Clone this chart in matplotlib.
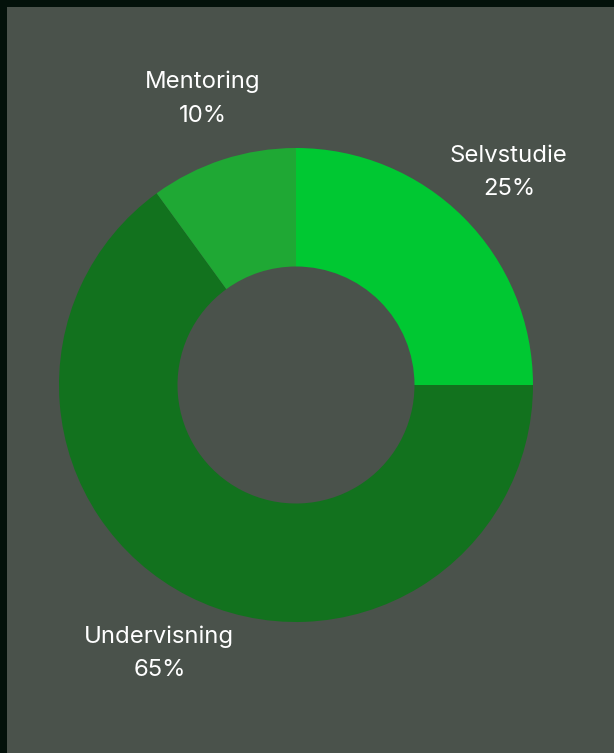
import numpy as np
import matplotlib
matplotlib.use("Agg")
import matplotlib.pyplot as plt

labels = ["Selvstudie", "Undervisning", "Mentoring"]
shares = [25, 65, 10]
colors = ["#00c832", "#12721e", "#1fa834"]

W, H = 614, 753
fig = plt.figure(figsize=(W / 100, H / 100), dpi=100, facecolor="#03110a")

# gray panel, 7px dark frame on top and left
ax = fig.add_axes([7 / W, 0, (W - 7) / W, (H - 7) / H])
ax.set_facecolor("#4a524b")

R = 237.0
cx, cy = 296, 385
ax.set_aspect("equal", adjustable="box")
ax.axis("off")
ax.add_patch(plt.Rectangle((-10, -10), 20, 20, color="#4a524b", zorder=0))

texts = [f"{l}\n{s}%" for l, s in zip(labels, shares)]
ax.pie(shares, labels=texts, colors=colors, startangle=90, counterclock=False,
       radius=1.0, labeldistance=1.27,
       wedgeprops=dict(width=0.5, linewidth=0),
       textprops=dict(color="white", fontsize=17.2, family="Inter",
                      ha="center", va="center", linespacing=1.65))
ax.set_xlim(-(cx - 7) / R, (W - cx) / R)
ax.set_ylim(-(H - cy) / R, (cy - 7) / R)

fig.savefig("out.png", dpi=100, facecolor=fig.get_facecolor())
